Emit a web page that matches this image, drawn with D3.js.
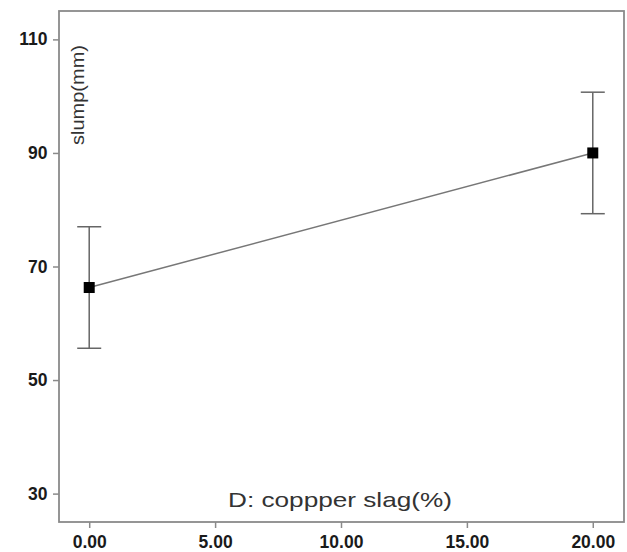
<!DOCTYPE html>
<html><head><meta charset="utf-8">
<script src="https://cdn.jsdelivr.net/npm/d3@7"></script>
<style>body{margin:0;background:#fff;} svg{display:block;}</style>
</head><body>
<script>
const xValues = [0, 20];
const yMeans = [66.3, 90.0];
const yLow = [55.6, 79.3];
const yHigh = [77.0, 100.7];
const xTicks = [0, 5, 10, 15, 20];
const yTicks = [30, 50, 70, 90, 110];
const xLabel = "D: coppper slag(%)";
const yLabel = "slump(mm)";

const W = 627, H = 552;
const L = 59, R = 624, T = 11, B = 522;
const svg = d3.select("body").append("svg").attr("width", W).attr("height", H);
const x = d3.scaleLinear().domain([-1.2, 21.24]).range([L, R]);
const y = d3.scaleLinear().domain([25, 115]).range([B, T]);

const font = "Liberation Sans, Arial, sans-serif";
const frameColor = "#8a8a8a";

// axes
const gx = svg.append("g").attr("transform", `translate(0,${B})`)
  .call(d3.axisBottom(x).tickValues(xTicks).tickFormat(d3.format(".2f")).tickSize(6).tickSizeOuter(0));
const gy = svg.append("g").attr("transform", `translate(${L},0)`)
  .call(d3.axisLeft(y).tickValues(yTicks).tickFormat(d3.format("d")).tickSize(6).tickSizeOuter(0));
[gx, gy].forEach(g => {
  g.select(".domain").remove();
  g.selectAll(".tick line").attr("stroke", frameColor).attr("stroke-width", 1.5);
  g.selectAll(".tick text").attr("fill", "#1a1a1a").style("font-family", font)
    .style("font-size", "17.5px").style("font-weight", "bold");
});
gx.selectAll(".tick text").attr("dy", "0.95em");
gy.selectAll(".tick text").attr("dx", "-0.15em");

// frame
svg.append("rect").attr("x", L).attr("y", T).attr("width", R - L).attr("height", B - T)
  .attr("fill", "none").attr("stroke", frameColor).attr("stroke-width", 1.8);

// line
const pts = xValues.map((v, i) => ({x: v, m: yMeans[i], lo: yLow[i], hi: yHigh[i]}));
svg.append("path").datum(pts)
  .attr("d", d3.line().x(d => x(d.x)).y(d => y(d.m)))
  .attr("fill", "none").attr("stroke", "#777").attr("stroke-width", 1.5);

// error bars
const eb = svg.append("g").attr("stroke", "#666").attr("stroke-width", 1.5);
pts.forEach(d => {
  eb.append("line").attr("x1", x(d.x)).attr("x2", x(d.x)).attr("y1", y(d.lo)).attr("y2", y(d.hi));
  eb.append("line").attr("x1", x(d.x) - 12).attr("x2", x(d.x) + 12).attr("y1", y(d.lo)).attr("y2", y(d.lo));
  eb.append("line").attr("x1", x(d.x) - 12).attr("x2", x(d.x) + 12).attr("y1", y(d.hi)).attr("y2", y(d.hi));
});

// markers
svg.selectAll("rect.mk").data(pts).enter().append("rect").attr("class", "mk")
  .attr("x", d => x(d.x) - 5.5).attr("y", d => y(d.m) - 5.5)
  .attr("width", 11).attr("height", 11).attr("fill", "#000");

// labels (horizontally stretched like the reference)
const xl = svg.append("g");
const xt = xl.append("text").attr("x", 0).attr("y", 0).attr("text-anchor", "middle")
  .style("font-family", font).style("font-size", "20px").attr("fill", "#333").text(xLabel);
const sx = 224 / xt.node().getComputedTextLength();
xl.attr("transform", `translate(340,507) scale(${sx},1)`);

const yl = svg.append("g");
const yt = yl.append("text").attr("x", 0).attr("y", 0).attr("text-anchor", "middle")
  .style("font-family", font).style("font-size", "17.5px").attr("fill", "#333").text(yLabel);
const sy = 100 / yt.node().getComputedTextLength();
yl.attr("transform", `translate(84,95) rotate(-90) scale(${sy},1)`);
</script>
</body></html>
